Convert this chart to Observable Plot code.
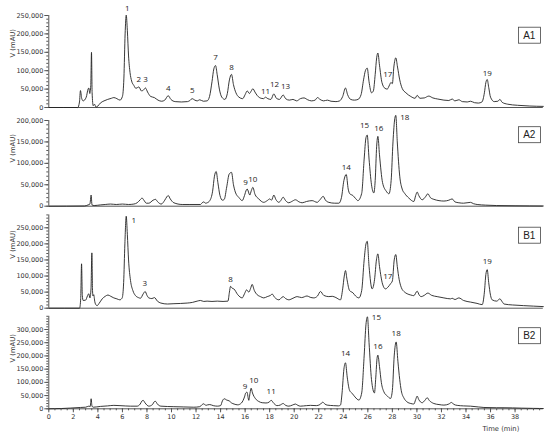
<!DOCTYPE html>
<html><head><meta charset="utf-8">
<script src="https://cdn.jsdelivr.net/npm/d3@7"></script>
<script src="https://cdn.jsdelivr.net/npm/@observablehq/plot@0.6"></script>
<style>
body{margin:0;background:#fff;}
#chart svg{display:block;}
</style></head><body><div id="chart"></div>
<script>
// ---- data (time in min, signal in thousands of mAU) ----
const xTickLabels = d3.range(0, 39, 2);
const panelNames = ["A1", "A2", "B1", "B2"];

const traceA1 = [[0,0],[2.36,0],[2.5,15],[2.58,46],[2.68,25],[2.8,18],[3.05,28],[3.2,50],[3.26,53],[3.34,38],[3.42,60],[3.48,150],[3.53,40],[3.62,5],[3.72,9],[3.85,1],[4.0,4],[4.2,12],[4.5,18],[4.8,22],[5.1,25],[5.3,27],[5.55,24],[5.8,20],[6.0,30],[6.12,80],[6.22,200],[6.31,251],[6.4,210],[6.5,140],[6.62,95],[6.75,72],[6.93,60],[7.1,52],[7.34,56],[7.55,45],[7.7,47],[7.88,53],[8.05,42],[8.3,30],[8.6,27],[8.9,20],[9.2,17],[9.45,20],[9.73,32],[9.95,22],[10.3,16],[10.8,15],[11.3,16],[11.5,19],[11.69,24],[11.9,20],[12.1,18],[12.3,21],[12.6,17],[12.9,18],[13.1,30],[13.3,70],[13.45,105],[13.59,114],[13.72,90],[13.9,50],[14.1,28],[14.35,22],[14.55,38],[14.72,75],[14.89,90],[15.05,62],[15.25,40],[15.5,28],[15.8,24],[16.0,35],[16.17,45],[16.35,38],[16.5,45],[16.63,51],[16.8,42],[17.0,32],[17.3,25],[17.5,24],[17.66,28],[17.85,24],[18.1,22],[18.34,37],[18.55,25],[18.8,22],[19.1,34],[19.3,24],[19.6,20],[19.9,22],[20.2,18],[20.5,24],[20.8,26],[21.1,21],[21.4,18],[21.7,20],[21.9,27],[22.1,22],[22.4,18],[22.7,20],[23.0,17],[23.4,16],[23.7,18],[23.95,30],[24.18,53],[24.35,35],[24.6,22],[24.9,20],[25.2,22],[25.45,35],[25.65,75],[25.8,100],[25.95,107],[26.1,70],[26.3,40],[26.45,45],[26.6,90],[26.72,135],[26.82,148],[26.95,115],[27.15,68],[27.4,52],[27.58,50],[27.78,62],[27.88,68],[28.0,65],[28.12,110],[28.28,135],[28.42,110],[28.6,75],[28.8,52],[29.1,40],[29.5,30],[29.85,25],[30.02,33],[30.25,25],[30.6,26],[30.97,31],[31.3,26],[31.7,23],[32.2,20],[32.6,19],[32.87,23],[33.1,18],[33.42,21],[33.7,16],[34.1,15],[34.37,17],[34.7,13],[35.0,12],[35.3,15],[35.5,40],[35.62,68],[35.73,76],[35.85,55],[36.0,28],[36.3,16],[36.6,17],[36.76,22],[36.95,14],[37.4,9],[38.2,6],[39.2,4],[40.3,3]];

const traceA2 = [[0,0],[2.9,0.5],[3.2,3],[3.35,5],[3.45,26],[3.52,3],[3.7,1.5],[4.2,3],[4.6,4],[5.03,5],[5.5,4],[6.0,5],[6.5,4],[6.93,5],[7.2,8],[7.45,15],[7.6,19],[7.75,14],[7.95,7],[8.15,7],[8.5,14],[8.7,16],[8.85,11],[9.16,5],[9.45,14],[9.62,22],[9.73,25],[9.9,17],[10.19,8],[10.87,4],[11.5,4],[12.36,4],[12.5,8],[12.63,10],[12.78,7],[12.91,8],[13.12,13],[13.35,35],[13.5,70],[13.64,81],[13.78,55],[13.95,25],[14.15,14],[14.3,16],[14.5,45],[14.7,75],[14.89,79],[15.05,50],[15.2,33],[15.5,20],[15.76,13],[15.95,25],[16.1,38],[16.17,40],[16.38,26],[16.5,36],[16.63,44],[16.8,28],[17.11,17],[17.52,9],[17.8,13],[18.01,17],[18.15,14],[18.34,26],[18.5,16],[18.75,9],[18.9,13],[19.1,21],[19.3,13],[19.56,8],[19.8,11],[20.1,15],[20.4,10],[20.65,8],[21.0,11],[21.46,13],[21.87,9],[22.1,15],[22.36,23],[22.55,14],[22.82,9],[23.3,7],[23.64,7],[23.85,20],[24.05,60],[24.24,74],[24.4,40],[24.53,29],[24.78,25],[25.0,18],[25.19,13],[25.5,30],[25.7,110],[25.85,160],[25.95,166],[26.1,110],[26.3,50],[26.49,31],[26.6,60],[26.72,140],[26.82,163],[26.95,120],[27.2,55],[27.5,35],[27.72,29],[27.9,60],[28.05,150],[28.2,205],[28.28,212],[28.4,150],[28.6,70],[28.8,40],[29.0,30],[29.34,19],[29.75,11],[29.9,25],[30.02,33],[30.15,25],[30.43,15],[30.7,22],[30.89,29],[31.1,20],[31.38,16],[31.8,13],[32.2,12],[32.6,14],[32.87,17],[33.1,10],[33.42,8],[33.8,7],[34.37,9],[34.6,6],[34.91,4],[35.6,2.5],[36.5,1.5],[38.0,1],[40.3,0.5]];

const traceB1 = [[0,0],[2.51,0],[2.6,30],[2.67,138],[2.73,40],[2.8,24],[3.0,25],[3.15,38],[3.26,45],[3.35,32],[3.44,60],[3.51,172],[3.56,60],[3.6,38],[3.66,42],[3.75,20],[3.85,10],[3.94,8],[4.1,15],[4.35,29],[4.6,37],[4.82,41],[5.05,37],[5.3,32],[5.55,29],[5.79,26],[5.98,32],[6.1,80],[6.2,200],[6.31,286],[6.4,230],[6.5,150],[6.66,86],[6.85,55],[7.07,39],[7.3,33],[7.47,31],[7.7,45],[7.85,52],[8.0,40],[8.15,32],[8.4,30],[8.61,33],[8.85,22],[9.13,16],[9.67,13],[10.2,14],[11.28,16],[11.7,18],[12.09,22],[12.36,24],[12.63,21],[12.9,22],[13.3,21],[13.73,22],[14.2,21],[14.6,22],[14.72,50],[14.81,68],[14.95,62],[15.08,60],[15.4,42],[15.76,32],[15.95,45],[16.12,57],[16.3,50],[16.45,62],[16.57,74],[16.75,55],[16.98,42],[17.25,36],[17.52,32],[17.8,36],[18.07,40],[18.2,44],[18.4,34],[18.75,26],[19.1,36],[19.3,30],[19.56,26],[19.9,31],[20.24,36],[20.6,33],[21.05,38],[21.3,34],[21.6,32],[21.9,38],[22.14,52],[22.4,40],[22.82,36],[23.1,37],[23.4,33],[23.77,26],[23.95,60],[24.08,100],[24.18,117],[24.3,90],[24.51,55],[24.78,48],[25.0,38],[25.27,32],[25.5,55],[25.7,150],[25.85,200],[25.95,208],[26.1,130],[26.35,60],[26.55,90],[26.7,150],[26.82,169],[26.95,130],[27.2,75],[27.44,60],[27.65,66],[27.85,76],[28.0,85],[28.15,150],[28.28,167],[28.4,130],[28.55,90],[28.72,65],[29.0,50],[29.2,45],[29.5,41],[29.75,39],[30.02,53],[30.2,40],[30.35,36],[30.6,40],[30.89,47],[31.2,40],[31.65,36],[32.2,32],[32.74,29],[32.87,31],[33.1,27],[33.42,32],[33.8,24],[34.37,19],[34.9,15],[35.32,11],[35.5,50],[35.62,105],[35.73,120],[35.85,80],[36.0,40],[36.13,26],[36.5,22],[36.76,29],[36.95,20],[37.1,13],[37.8,10],[38.7,8],[40.3,5]];

const traceB2 = [[0,0],[1.0,1],[2.58,5],[3.0,6],[3.26,10],[3.38,9],[3.45,38],[3.52,10],[3.62,6],[4.21,9],[4.8,11],[5.3,13],[5.8,12],[6.66,10],[7.2,10],[7.45,18],[7.6,30],[7.69,32],[7.85,22],[8.15,10],[8.45,16],[8.6,27],[8.7,28],[8.85,18],[9.13,10],[10.19,8],[11.0,7],[11.82,6],[12.3,8],[12.5,16],[12.63,19],[12.8,13],[12.95,15],[13.12,16],[13.4,12],[13.73,10],[14.0,12],[14.15,30],[14.3,38],[14.5,33],[14.7,30],[14.9,22],[15.1,18],[15.4,15],[15.7,22],[15.95,45],[16.05,60],[16.15,63],[16.3,32],[16.4,60],[16.49,78],[16.6,60],[16.85,38],[17.1,28],[17.39,23],[17.7,22],[17.95,25],[18.12,32],[18.35,20],[18.6,12],[18.85,14],[19.1,20],[19.3,13],[19.56,10],[19.85,14],[20.1,18],[20.3,13],[20.5,10],[21.0,12],[21.33,13],[21.8,12],[22.1,16],[22.33,25],[22.5,18],[22.68,14],[23.2,12],[23.6,11],[23.77,14],[23.9,60],[24.05,150],[24.18,174],[24.32,120],[24.51,70],[24.73,58],[24.95,45],[25.27,33],[25.5,60],[25.7,200],[25.85,320],[25.97,348],[26.1,250],[26.3,110],[26.54,60],[26.65,120],[26.75,190],[26.82,203],[26.95,160],[27.1,100],[27.31,64],[27.6,48],[27.85,39],[28.0,70],[28.15,200],[28.31,253],[28.45,180],[28.6,110],[28.72,70],[28.95,40],[29.2,26],[29.5,20],[29.75,18],[29.9,35],[30.02,48],[30.15,35],[30.43,23],[30.65,32],[30.84,42],[31.0,32],[31.38,20],[31.8,16],[32.2,14],[32.6,18],[32.82,24],[33.0,17],[33.28,13],[33.8,11],[34.37,10],[35.0,7],[35.46,5],[36.5,4],[37.1,4],[38.5,2.5],[40.3,1]];

// peak labels: [label, time, signal (k) at label]
const peaksA1 = [["1",6.39,269],["2",7.34,76],["3",7.88,76],["4",9.73,52],["5",11.69,46],["7",13.59,136],["8",14.89,109],["11",17.66,43],["12",18.39,62],["13",19.29,57],["17",27.63,90],["19",35.73,92]];
const peaksA2 = [["9",16.03,55],["10",16.63,62],["14",24.24,91],["15",25.73,188],["16",26.9,181],["18",29.01,208]];
const peaksB1 = [["1",6.93,272],["3",7.83,78],["8",14.81,88],["17",27.63,98],["19",35.73,146]];
const peaksB2 = [["9",16.0,86],["10",16.7,107],["11",18.12,66],["14",24.18,208],["15",26.7,347],["16",26.82,237],["18",28.31,284]];

// ---- layout ----
const layout = [
  {height:110, mt:15,   mb:3,    yTop:250000, axisTop:250000, labelY:136000, legendCy:35},
  {height:100, mt:10,   mb:4.3,  yTop:200000, axisTop:200000, labelY:102000, legendCy:24.5},
  {height:102, mt:17.3, mb:4.3,  yTop:250000, axisTop:290000, labelY:154000, legendCy:25},
  {height:126, mt:17,   mb:29.7, yTop:300000, axisTop:350000, labelY:175000, legendCy:23.5}
];
const traces = [traceA1, traceA2, traceB1, traceB2];
const peaks = [peaksA1, peaksA2, peaksB1, peaksB2];
const X_MAX = 40.3;
const ink = "#333";

const container = document.getElementById("chart");

layout.forEach((cfg, i) => {
  const name = panelNames[i];
  const isBottom = i === layout.length - 1;
  const data = traces[i].map(([t, v]) => ({t, v: v * 1000}));
  const lab = peaks[i].map(([n, t, v]) => ({n, t, v: v * 1000}));
  const marks = [
    Plot.ruleY([{x1: 0, x2: X_MAX, y: 0}], {x1: "x1", x2: "x2", y: "y", stroke: "#555", strokeWidth: 1}),
    Plot.ruleX([{x: 0, y1: 0, y2: cfg.axisTop}], {x: "x", y1: "y1", y2: "y2", stroke: "#555"}),
    Plot.axisY({ticks: d3.range(0, cfg.axisTop + 1, 10000), tickSize: 2, text: null, stroke: "#555", label: null}),
    Plot.axisY({ticks: d3.range(0, cfg.yTop + 1, 50000), tickSize: 4, tickPadding: 1.5, tickFormat: d3.format(","), label: null, stroke: "#555", fill: "#333"}),
    Plot.line(data, {x: "t", y: "v", curve: "monotone-x", stroke: "#222", strokeWidth: 0.9}),
    Plot.text(lab, {x: "t", y: "v", text: "n", fontFamily: "Open Sans", fontSize: 8, fill: "#222"}),
    Plot.text([{y: cfg.labelY}], {y: "y", text: () => "V (mAU)", frameAnchor: "left", rotate: -90, dx: -36, fontSize: 6.8, fill: "#333"}),
    Plot.text([name], {frameAnchor: "top-right", dx: -14, dy: cfg.legendCy - cfg.mt, textAnchor: "middle", lineAnchor: "middle", fontSize: 10, fontFamily: "Liberation Sans", fill: "#222"})
  ];
  if (isBottom) {
    marks.push(
      Plot.axisX({ticks: d3.range(0, 40.01, 0.5), tickSize: 2, text: null, stroke: "#555", label: null}),
      Plot.axisX({ticks: xTickLabels, tickSize: 4, tickPadding: 1.5, stroke: "#555", fill: "#333", label: null}),
      Plot.text(["Time (min)"], {frameAnchor: "bottom-right", dx: -24, dy: 20, textAnchor: "end", lineAnchor: "middle", fontSize: 6.8, fill: "#333"})
    );
  }
  const svg = Plot.plot({
    width: 550,
    height: cfg.height,
    marginLeft: 48.3,
    marginRight: 7.2,
    marginTop: cfg.mt,
    marginBottom: cfg.mb,
    x: {domain: [0, X_MAX], ...(isBottom ? {} : {axis: null})},
    y: {domain: [0, cfg.yTop]},
    style: {fontFamily: "DejaVu Sans", fontSize: "6.5px", background: "white", overflow: "visible"},
    marks
  });
  container.append(svg);
  // legend box around panel name
  const sr = svg.getBoundingClientRect();
  d3.select(svg).selectAll("text").filter(function () { return this.textContent === name; }).each(function () {
    const r = this.getBoundingClientRect();
    const cx = r.left + r.width / 2 - sr.left, cy = r.top + r.height / 2 - sr.top;
    d3.select(svg).insert("rect", ":first-child")
      .attr("x", cx - 11).attr("y", cy - 8).attr("width", 22).attr("height", 16)
      .attr("fill", "none").attr("stroke", "#444").attr("stroke-width", 0.8);
    // put the rect after background
    svg.appendChild(svg.querySelector("rect"));
  });
});
</script></body></html>
